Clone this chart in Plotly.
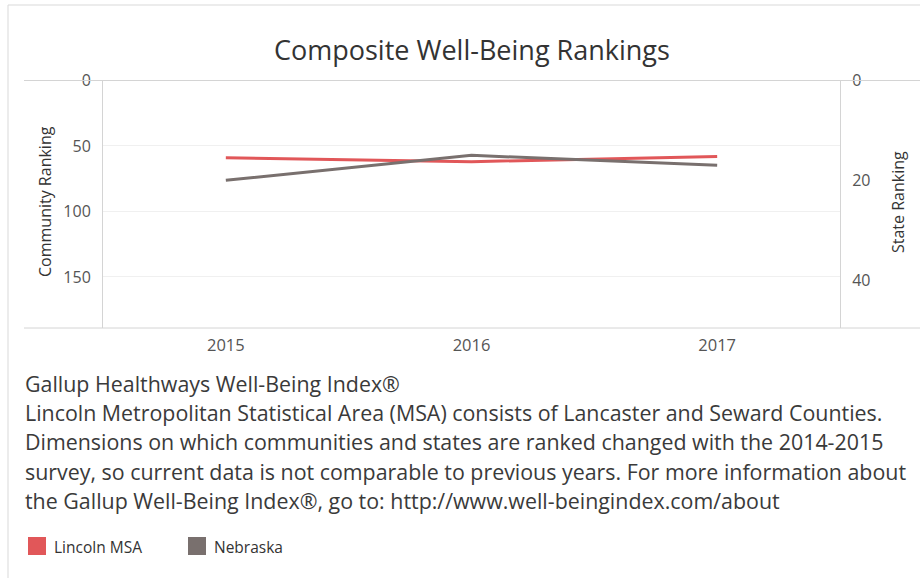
import plotly.graph_objects as go

years = [2015, 2016, 2017]
year_labels = ["2015", "2016", "2017"]
series_names = ["Lincoln MSA", "Nebraska"]
lincoln_community_rank = [59, 62, 58]
nebraska_state_rank = [20, 15, 17]
colors = ["#e15759", "#79706e"]
left_ticks = [0, 50, 100, 150]
right_ticks = [0, 20, 40]
title_text = "Composite Well-Being Rankings"
footnote_lines = [
    "Gallup Healthways Well-Being Index®",
    "Lincoln Metropolitan Statistical Area (MSA) consists of Lancaster and Seward Counties.",
    "Dimensions on which communities and states are ranked changed with the 2014-2015",
    "survey, so current data is not comparable to previous years. For more information about",
    "the Gallup Well-Being Index®, go to: http://www.well-beingindex.com/about",
]

W, H = 922, 578
FONT = "Open Sans"
TXT = "#333333"
TICK = "#555555"


def px(x):
    return x / W


def py(y):
    return 1 - y / H


fig = go.Figure()
fig.add_trace(go.Scatter(x=years, y=lincoln_community_rank, mode="lines",
                         line=dict(color=colors[0], width=3), name=series_names[0],
                         yaxis="y", showlegend=False))
fig.add_trace(go.Scatter(x=years, y=nebraska_state_rank, mode="lines",
                         line=dict(color=colors[1], width=3), name=series_names[1],
                         yaxis="y2", showlegend=False))

shapes = []
# outer frame (left and top)
shapes.append(dict(type="line", xref="paper", yref="paper", x0=px(8), x1=px(8), y0=py(5), y1=0,
                   line=dict(color="#d9d9d9", width=1)))
shapes.append(dict(type="line", xref="paper", yref="paper", x0=px(8), x1=px(920), y0=py(5), y1=py(5),
                   line=dict(color="#d9d9d9", width=1)))
# top and bottom pane borders
for yy in (80.5, 328):
    shapes.append(dict(type="line", xref="paper", yref="paper", x0=px(24), x1=px(920), y0=py(yy), y1=py(yy),
                       line=dict(color="#d4d4d4", width=1)))

annotations = []
annotations.append(dict(text=title_text, x=px(472), y=py(50), xref="paper", yref="paper",
                        showarrow=False, xanchor="center", yanchor="middle",
                        font=dict(family=FONT, size=27, color=TXT)))
annotations.append(dict(text="Community Ranking", x=px(45), y=py(202), xref="paper", yref="paper",
                        showarrow=False, textangle=-90, xanchor="center", yanchor="middle",
                        font=dict(family=FONT, size=16, color=TXT)))
annotations.append(dict(text="State Ranking", x=px(898), y=py(202), xref="paper", yref="paper",
                        showarrow=False, textangle=-90, xanchor="center", yanchor="middle",
                        font=dict(family=FONT, size=16, color=TXT)))
line_y = [383, 412, 441, 471, 500]
for t, yy in zip(footnote_lines, line_y):
    annotations.append(dict(text=t, x=px(23), y=py(yy), xref="paper", yref="paper",
                            showarrow=False, xanchor="left", yanchor="middle",
                            font=dict(family=FONT, size=21.4, color="#3a3a3a")))
# legend
leg_x = [28, 188]
for name, c, lx in zip(series_names, colors, leg_x):
    shapes.append(dict(type="rect", xref="paper", yref="paper", x0=px(lx), x1=px(lx + 18),
                       y0=py(555), y1=py(537), fillcolor=c, line=dict(width=0)))
    annotations.append(dict(text=name, x=px(lx + 24), y=py(547), xref="paper", yref="paper",
                            showarrow=False, xanchor="left", yanchor="middle",
                            font=dict(family=FONT, size=15.5, color=TXT)))

fig.update_layout(
    width=W, height=H, template="none",
    margin=dict(l=0, r=0, t=0, b=0),
    paper_bgcolor="white", plot_bgcolor="white",
    showlegend=False,
    font=dict(family=FONT, color=TICK, size=16),
    xaxis=dict(domain=[px(103), px(840)], range=[2014.5, 2017.5], tickvals=years, ticktext=year_labels,
               showgrid=False, zeroline=False, showline=False, ticks="outside", ticklen=2,
               tickcolor="rgba(0,0,0,0)", automargin=False, tickfont=dict(size=16.5, color=TICK)),
    yaxis=dict(domain=[py(328), py(80.5)], range=[189, 0], tickvals=left_ticks,
               showgrid=True, gridcolor="#f0f0f0", gridwidth=1, zeroline=False,
               showline=True, linecolor="#d4d4d4", linewidth=1,
               ticks="outside", ticklen=8, tickcolor="rgba(0,0,0,0)", automargin=False,
               tickfont=dict(size=16, color=TICK)),
    yaxis2=dict(overlaying="y", side="right", range=[49.6, 0], tickvals=right_ticks,
                showgrid=False, zeroline=False, showline=True, linecolor="#d4d4d4", linewidth=1,
                ticks="outside", ticklen=8, tickcolor="rgba(0,0,0,0)", automargin=False,
                tickfont=dict(size=16, color=TICK)),
    shapes=shapes, annotations=annotations,
)

fig.write_html("out.html", config={"displayModeBar": False},
               post_script="document.body.style.margin='0';document.body.style.overflow='hidden';")
